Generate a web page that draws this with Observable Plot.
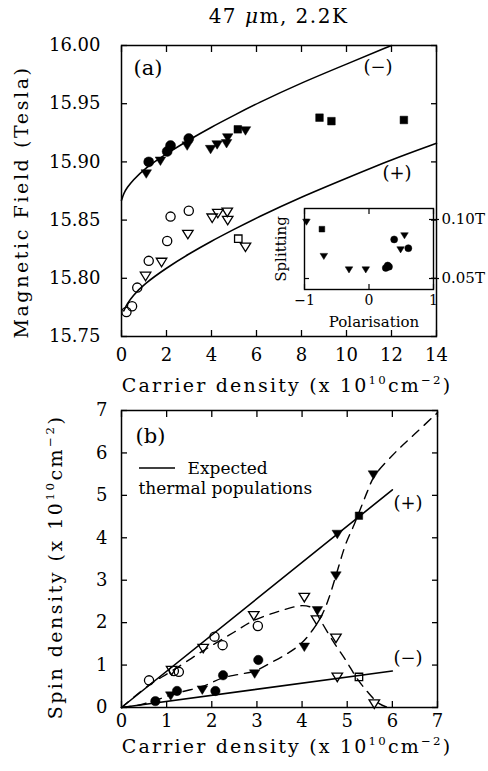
<!DOCTYPE html>
<html><head><meta charset="utf-8">
<script src="https://cdn.jsdelivr.net/npm/d3@7"></script>
<script src="https://cdn.jsdelivr.net/npm/@observablehq/plot@0.6"></script>
<style>
body{margin:0;background:#fff;}
#wrap{position:relative;width:488px;height:771px;font-family:"DejaVu Serif",serif;color:#000;}
#wrap svg{position:absolute;left:0;top:0;}
#title{position:absolute;top:4px;left:121px;width:315px;text-align:center;font-size:20px;letter-spacing:1.5px;}
</style></head>
<body><div id="wrap"><div id="title">47 <i>μ</i>m, 2.2K</div></div>
<script>
// ---------- Panel (a): magnetic field vs carrier density ----------
const xTicksA = [0, 2, 4, 6, 8, 10, 12, 14];
const yTicksA = [15.75, 15.80, 15.85, 15.90, 15.95, 16.00];
const curveMinus = [[0,15.867],[0.1,15.873],[0.25,15.878],[0.5,15.884],[1,15.894],[2,15.907],[3,15.919],[4,15.930],[5,15.940],[6,15.950],[8,15.968],[10,15.984],[12,16.000]];
const curvePlus = [[0.1,15.772],[0.25,15.778],[0.5,15.785],[1,15.795],[2,15.809],[3,15.821],[4,15.832],[5,15.842],[6,15.852],[8,15.870],[10,15.886],[12,15.902],[14,15.916]];
const aFilledCircles = [[1.21,15.900],[2.03,15.909],[2.18,15.914],[2.99,15.920]];
const aFilledTriangles = [[1.10,15.890],[1.73,15.901],[2.92,15.914],[3.96,15.911],[4.25,15.915],[4.67,15.916],[4.72,15.921],[5.51,15.927]];
const aFilledSquares = [[5.17,15.928],[8.80,15.938],[9.33,15.935],[12.55,15.936]];
const aOpenCircles = [[0.22,15.771],[0.47,15.776],[0.70,15.792],[1.21,15.815],[2.03,15.832],[2.18,15.853],[2.99,15.858]];
const aOpenTriangles = [[1.07,15.802],[1.78,15.814],[2.95,15.838],[4.03,15.852],[4.28,15.856],[4.70,15.857],[4.72,15.850],[5.51,15.827]];
const aOpenSquares = [[5.19,15.834]];

// ---------- Inset: splitting vs polarisation ----------
const xTicksInset = [-1, 0, 1];
const yTicksInset = [0.05, 0.10];
const insetTriangles = [[-0.97,0.098],[-0.70,0.069],[-0.31,0.0576],[-0.05,0.0576],[0.49,0.0746],[0.55,0.0865]];
const insetCircles = [[0.26,0.059],[0.29,0.061],[0.31,0.060],[0.39,0.0831],[0.61,0.0757]];
const insetSquares = [[-0.73,0.0918]];

// ---------- Panel (b): spin density vs carrier density ----------
const ticksB = [0, 1, 2, 3, 4, 5, 6, 7];
const expectedPlus = [[0,0],[6,5.13]];
const expectedMinus = [[0,0],[6,0.86]];
const dashedOpen = [[0,0],[0.6,0.52],[1.1,0.85],[1.8,1.33],[2.5,1.78],[2.93,2.05],[3.5,2.27],[4.0,2.4],[4.25,2.33],[4.41,2.05],[4.7,1.54],[4.97,1.11],[5.22,0.68],[5.45,0.37],[5.71,0.09],[5.9,0.0]];
const dashedFilled = [[0,0],[0.4,0.06],[0.75,0.17],[1.2,0.33],[1.8,0.5],[2.25,0.7],[2.6,0.78],[2.95,0.86],[3.3,1.05],[3.67,1.27],[3.97,1.5],[4.23,1.82],[4.45,2.2],[4.6,2.6],[4.75,3.11],[4.97,3.86],[5.15,4.3],[5.3,4.7],[5.45,5.1],[5.6,5.45],[6.1,6.05],[6.5,6.45],[7,6.95]];
const bOpenCircles = [[0.61,0.64],[1.16,0.86],[1.27,0.84],[2.06,1.67],[2.24,1.47],[3.02,1.92]];
const bOpenTriangles = [[1.11,0.88],[1.81,1.40],[2.93,2.17],[4.05,2.60],[4.32,2.07],[4.75,1.64],[4.78,0.72],[5.6,0.09]];
const bOpenSquares = [[5.26,0.72]];
const bFilledCircles = [[0.75,0.15],[1.23,0.39],[2.08,0.39],[2.25,0.76],[3.03,1.12]];
const bFilledTriangles = [[1.09,0.28],[1.79,0.42],[2.95,0.80],[4.05,1.43],[4.34,2.29],[4.75,3.11],[4.78,4.09],[5.58,5.49]];
const bFilledSquares = [[5.26,4.52]];

// ---------- helpers ----------
const triDown = {draw(ctx, size){ const r = Math.sqrt(size/Math.PI); const w = r*1.05;
  ctx.moveTo(-w,-0.75*r); ctx.lineTo(w,-0.75*r); ctx.lineTo(0,0.95*r); ctx.closePath(); }};
const X = d => d[0], Y = d => d[1];
const fmtMinus = d => d < 0 ? "\u2212" + Math.abs(d) : String(d);
const baseStyle = {background:"transparent", fontFamily:"DejaVu Serif, serif", fontSize:"18px", color:"black", overflow:"visible"};
const W = 488, H = 771;
function dots(data, symbol, r, filled, sw=1.3){
  return Plot.dot(data, {x:X, y:Y, symbol, r, fill: filled ? "black" : "none", stroke:"black", strokeWidth: filled ? 0.5 : sw});
}
function addLabel(svg, x, y, rotate, parts, size, ls){
  const t = d3.select(svg).append("text")
    .attr("transform", `translate(${x},${y}) rotate(${rotate})`)
    .attr("text-anchor","middle").attr("font-family","DejaVu Serif, serif")
    .attr("font-size", size).attr("letter-spacing", ls).attr("fill","black");
  let shifted = false;
  for (const [s, sup] of parts){
    const ts = t.append("tspan").text(s);
    if (sup){ ts.attr("font-size", size*0.62).attr("dy", shifted ? 0 : -size*0.42); shifted = true; }
    else { if (shifted) ts.attr("dy", size*0.42); shifted = false; }
  }
}
const densityParts = lead => [[lead + " (x 10", false],["10", true],["cm", false],["\u22122", true],[")", false]];

// ---------- Plot (a) ----------
const plotA = Plot.plot({
  width: W, height: H, marginLeft: 121, marginRight: 52, marginTop: 45, marginBottom: H-336,
  style: baseStyle,
  x: {domain:[0,14]}, y: {domain:[15.75,16.00]},
  marks: [
    Plot.axisX({ticks:xTicksA, tickSize:-6, tickPadding:18, tickFormat:fmtMinus, label:null, strokeWidth:1.3}),
    Plot.axisX({anchor:"top", ticks:xTicksA, tickSize:-6, tickFormat:()=> "", label:null, strokeWidth:1.3}),
    Plot.axisY({ticks:yTicksA, tickSize:-6, tickPadding:27, tickFormat:d=>d.toFixed(2), label:null, strokeWidth:1.3}),
    Plot.axisY({anchor:"right", ticks:yTicksA, tickSize:-6, tickFormat:()=> "", label:null, strokeWidth:1.3}),
    Plot.frame({stroke:"black", strokeWidth:1.5}),
    Plot.line(curveMinus, {x:X, y:Y, curve:"basis", strokeWidth:1.6}),
    Plot.line(curvePlus, {x:X, y:Y, curve:"basis", strokeWidth:1.6}),
    dots(aOpenCircles, "circle", 4.6, false),
    dots(aOpenTriangles, triDown, 5, false),
    dots(aOpenSquares, "square", 4.2, false),
    dots(aFilledCircles, "circle", 5, true),
    dots(aFilledTriangles, triDown, 5, true),
    dots(aFilledSquares, "square", 4.3, true),
    Plot.text(["(a)"], {frameAnchor:"top-left", dx:12, dy:23, textAnchor:"start", lineAnchor:"middle", fontSize:21, letterSpacing:"2px"}),
    Plot.text(["(\u2212)"], {frameAnchor:"top-left", dx:242, dy:22, textAnchor:"start", lineAnchor:"middle", fontSize:18, letterSpacing:"2px"}),
    Plot.text(["(+)"], {frameAnchor:"top-left", dx:261, dy:128, textAnchor:"start", lineAnchor:"middle", fontSize:18, letterSpacing:"2px"})
  ]
});
addLabel(plotA, 287, 392, 0, densityParts("Carrier density"), 19, 2.2);
addLabel(plotA, 28, 202, -90, [["Magnetic Field (Tesla)", false]], 19, 2.6);

// ---------- Inset ----------
const inset = Plot.plot({
  width: W, height: H, marginLeft: 304, marginRight: W-433, marginTop: 208, marginBottom: H-289,
  style: {...baseStyle, fontSize:"14px"},
  x: {domain:[-1,1]}, y: {domain:[0.0407,0.1093]},
  marks: [
    Plot.axisX({ticks:xTicksInset, tickSize:-5, tickPadding:11, tickFormat:fmtMinus, label:null, strokeWidth:1.2}),
    Plot.axisX({anchor:"top", ticks:xTicksInset, tickSize:-5, tickFormat:()=> "", label:null, strokeWidth:1.2}),
    Plot.axisY({ticks:yTicksInset, tickSize:-5, tickFormat:()=> "", label:null, strokeWidth:1.2}),
    Plot.axisY({anchor:"right", ticks:yTicksInset, tickSize:-5, tickFormat:()=> "", label:null, strokeWidth:1.2}),
    Plot.axisY({anchor:"right", ticks:yTicksInset, tickSize:5, tickPadding:3, tickFormat:d=>d.toFixed(2)+"T", label:null, strokeWidth:1.2, fontSize:15, letterSpacing:"1px"}),
    Plot.frame({stroke:"black", strokeWidth:1.4}),
    dots(insetTriangles, triDown, 3.6, true),
    dots(insetCircles, "circle", 3.5, true),
    dots(insetSquares, "square", 3.2, true),
    Plot.text(["Splitting"], {frameAnchor:"left", dx:-19, rotate:-90, textAnchor:"middle", lineAnchor:"bottom", fontSize:15, letterSpacing:"1.3px"}),
    Plot.text(["Polarisation"], {frameAnchor:"bottom", dx:5, dy:33, textAnchor:"middle", lineAnchor:"middle", fontSize:15, letterSpacing:"1.8px"})
  ]
});

// ---------- Plot (b) ----------
const plotB = Plot.plot({
  width: W, height: H, marginLeft: 121, marginRight: 51, marginTop: 410, marginBottom: H-707,
  style: baseStyle,
  x: {domain:[0,7]}, y: {domain:[0,7]},
  marks: [
    Plot.axisX({ticks:ticksB, tickSize:-6, tickPadding:13, tickFormat:fmtMinus, label:null, strokeWidth:1.3}),
    Plot.axisX({anchor:"top", ticks:ticksB, tickSize:-6, tickFormat:()=> "", label:null, strokeWidth:1.3}),
    Plot.axisY({ticks:ticksB, tickSize:-6, tickPadding:20, tickFormat:fmtMinus, label:null, strokeWidth:1.3}),
    Plot.axisY({anchor:"right", ticks:ticksB, tickSize:-6, tickFormat:()=> "", label:null, strokeWidth:1.3}),
    Plot.frame({stroke:"black", strokeWidth:1.5}),
    Plot.line(expectedPlus, {x:X, y:Y, strokeWidth:1.6}),
    Plot.line(expectedMinus, {x:X, y:Y, strokeWidth:1.6}),
    Plot.line(dashedOpen, {x:X, y:Y, curve:"catmull-rom", strokeWidth:1.4, strokeDasharray:"9,7"}),
    Plot.line(dashedFilled, {x:X, y:Y, curve:"catmull-rom", strokeWidth:1.4, strokeDasharray:"9,7"}),
    dots(bOpenCircles, "circle", 4.6, false),
    dots(bOpenTriangles, triDown, 5, false),
    dots(bOpenSquares, "square", 4.2, false),
    dots(bFilledCircles, "circle", 4.7, true),
    dots(bFilledTriangles, triDown, 5, true),
    dots(bFilledSquares, "square", 4.2, true),
    Plot.text(["(b)"], {frameAnchor:"top-left", dx:14, dy:26, textAnchor:"start", lineAnchor:"middle", fontSize:21, letterSpacing:"2px"}),
    Plot.text(["Expected"], {frameAnchor:"top-left", dx:66, dy:58, textAnchor:"start", lineAnchor:"middle", fontSize:17, letterSpacing:"1.5px"}),
    Plot.text(["thermal populations"], {frameAnchor:"top-left", dx:17, dy:78, textAnchor:"start", lineAnchor:"middle", fontSize:17, letterSpacing:"1.3px"}),
    Plot.text(["(+)"], {frameAnchor:"top-left", dx:272, dy:93, textAnchor:"start", lineAnchor:"middle", fontSize:18, letterSpacing:"2px"}),
    Plot.text(["(\u2212)"], {frameAnchor:"top-left", dx:272, dy:248, textAnchor:"start", lineAnchor:"middle", fontSize:18, letterSpacing:"2px"})
  ]
});
d3.select(plotB).append("line").attr("x1",139).attr("x2",175).attr("y1",468).attr("y2",468).attr("stroke","black").attr("stroke-width",1.3);
addLabel(plotB, 287, 753, 0, densityParts("Carrier density"), 19, 2.2);
addLabel(plotB, 62, 567, -90, densityParts("Spin density"), 19, 2.5);

const wrap = document.getElementById("wrap");
wrap.appendChild(plotA);
wrap.appendChild(plotB);
wrap.appendChild(inset);
</script></body></html>
